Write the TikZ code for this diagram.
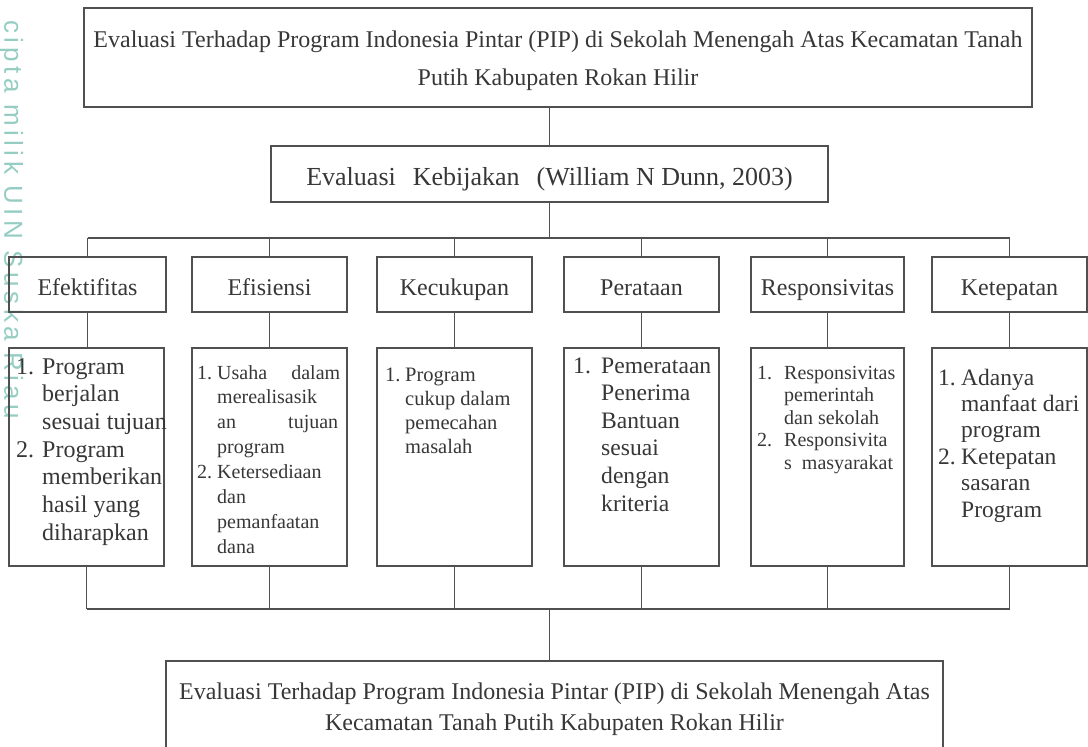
\documentclass[tikz,border=0pt]{standalone}
\usepackage{fontspec}
\setmainfont{Liberation Serif}
\newfontfamily\wmfont[LetterSpace=17]{Liberation Sans}
\definecolor{linec}{RGB}{80,80,80}
\definecolor{txtc}{RGB}{55,55,55}
\definecolor{wmc}{RGB}{150,205,195}
\begin{document}
\begin{tikzpicture}[x=1pt,y=-1pt,
  box/.style={draw=linec,line width=1.4pt,inner sep=0pt,text=txtc},
  catbox/.style={box,minimum height=55pt,font=\fontsize{24}{28}\selectfont,text height=21pt,text depth=0pt},
  detbox/.style={box,minimum height=218pt},
  conn/.style={draw=linec,line width=1.4pt},
  lst/.style={anchor=base west,inner sep=0pt,text=txtc}]
\useasboundingbox (0,0) rectangle (1088,747);
\clip (0,0) rectangle (1088,747);

% watermark text
\node[rotate=-90,anchor=west,inner sep=0pt,text=wmc,font=\wmfont\fontsize{26}{30}\selectfont] (wm) at (11,20) {cipta milik UIN Suska Riau};

% top box
\node[box,minimum width=948pt,minimum height=99pt] (top) at (558,57.5) {};
\node[anchor=base,inner sep=0pt,text=txtc,font=\fontsize{24}{38}\selectfont] (toptext) at (558,47)
  {\begin{tabular}[t]{@{}c@{}}Evaluasi Terhadap Program Indonesia Pintar (PIP) di Sekolah Menengah Atas Kecamatan Tanah\\Putih Kabupaten Rokan Hilir\end{tabular}};

% middle box
\node[box,minimum width=557pt,minimum height=56pt,font=\fontsize{26}{30}\selectfont,text height=22pt,text depth=0pt] (mid) at (549.5,174)
  {Evaluasi\hspace{17pt}Kebijakan\hspace{17pt}(William N Dunn, 2003)};

% category boxes
\node[catbox,minimum width=157pt] (c1) at (87.5,284.5) {Efektifitas};
\node[catbox,minimum width=155pt] (c2) at (269.5,284.5) {Efisiensi};
\node[catbox,minimum width=155pt] (c3) at (454.5,284.5) {Kecukupan};
\node[catbox,minimum width=155pt] (c4) at (641.5,284.5) {Perataan};
\node[catbox,minimum width=153pt] (c5) at (827.5,284.5) {Responsivitas};
\node[catbox,minimum width=155pt] (c6) at (1009.5,284.5) {Ketepatan};

% detail boxes
\node[detbox,minimum width=155pt] (d1) at (86.5,457) {};
\node[detbox,minimum width=155pt] (d2) at (269.5,457) {};
\node[detbox,minimum width=155pt] (d3) at (454.5,457) {};
\node[detbox,minimum width=155pt] (d4) at (641.5,457) {};
\node[detbox,minimum width=153pt] (d5) at (827.5,457) {};
\node[detbox,minimum width=155pt] (d6) at (1009.5,457) {};

% detail texts
\node[lst,font=\fontsize{24}{27.7}\selectfont] (t1) at (16,374)
  {\begin{tabular}[t]{@{}l@{}}\makebox[26pt][l]{1.}Program\\\hspace*{26pt}berjalan\\\hspace*{26pt}sesuai tujuan\\\makebox[26pt][l]{2.}Program\\\hspace*{26pt}memberikan\\\hspace*{26pt}hasil yang\\\hspace*{26pt}diharapkan\end{tabular}};
\node[lst,font=\fontsize{20}{24.9}\selectfont] (t2) at (197,379)
  {\begin{tabular}[t]{@{}l@{}}\makebox[20pt][l]{1.}\makebox[123pt][s]{Usaha\hfill dalam}\\\hspace*{20pt}merealisasik\\\hspace*{20pt}\makebox[121pt][s]{an\hfill tujuan}\\\hspace*{20pt}program\\\makebox[20pt][l]{2.}Ketersediaan\\\hspace*{20pt}dan\\\hspace*{20pt}pemanfaatan\\\hspace*{20pt}dana\end{tabular}};
\node[lst,font=\fontsize{20.5}{24.3}\selectfont] (t3) at (385,381)
  {\begin{tabular}[t]{@{}l@{}}\makebox[20pt][l]{1.}Program\\\hspace*{20pt}cukup dalam\\\hspace*{20pt}pemecahan\\\hspace*{20pt}masalah\end{tabular}};
\node[lst,font=\fontsize{23.6}{27.6}\selectfont] (t4) at (573,373)
  {\begin{tabular}[t]{@{}l@{}}\makebox[28pt][l]{1.}Pemerataan\\\hspace*{28pt}Penerima\\\hspace*{28pt}Bantuan\\\hspace*{28pt}sesuai\\\hspace*{28pt}dengan\\\hspace*{28pt}kriteria\end{tabular}};
\node[lst,font=\fontsize{20}{22.6}\selectfont] (t5) at (757,379)
  {\begin{tabular}[t]{@{}l@{}}\makebox[27pt][l]{1.}Responsivitas\\\hspace*{27pt}pemerintah\\\hspace*{27pt}dan sekolah\\\makebox[27pt][l]{2.}Responsivita\\\hspace*{27pt}s\hspace{5pt} masyarakat\end{tabular}};
\node[lst,font=\fontsize{23.5}{26.4}\selectfont] (t6) at (938,385)
  {\begin{tabular}[t]{@{}l@{}}\makebox[23pt][l]{1.}Adanya\\\hspace*{23pt}manfaat dari\\\hspace*{23pt}program\\\makebox[23pt][l]{2.}Ketepatan\\\hspace*{23pt}sasaran\\\hspace*{23pt}Program\end{tabular}};

% bottom box
\node[box,minimum width=777pt,minimum height=139pt] (bot) at (554.5,730.5) {};
\node[anchor=base,inner sep=0pt,text=txtc,font=\fontsize{24}{31}\selectfont] (bottext) at (554.5,699)
  {\begin{tabular}[t]{@{}c@{}}Evaluasi Terhadap Program Indonesia Pintar (PIP) di Sekolah Menengah Atas\\Kecamatan Tanah Putih Kabupaten Rokan Hilir\end{tabular}};

% connectors
\coordinate (bus1) at (549.5,238);
\coordinate (bus2) at (549.5,609);
\draw[conn] (top.south -| mid.north) -- (mid.north);
\draw[conn] (mid.south) -- (bus1);
\draw[conn] (c1.north |- bus1) -- (c6.north |- bus1);
\foreach \i in {1,...,6}{
  \draw[conn] (c\i.north |- bus1) -- (c\i.north);
  \draw[conn] (c\i.south) -- (c\i.south |- d\i.north);
  \draw[conn] (d\i.south) -- (d\i.south |- bus2);
}
\draw[conn] (d1.south |- bus2) -- (d6.south |- bus2);
\draw[conn] (bus2) -- (bus2 |- bot.north);
\end{tikzpicture}
\end{document}
